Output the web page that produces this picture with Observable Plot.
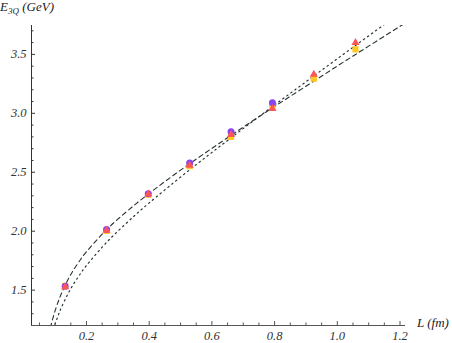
<!DOCTYPE html>
<html><head><meta charset="utf-8">
<script src="https://cdn.jsdelivr.net/npm/d3@7"></script>
<script src="https://cdn.jsdelivr.net/npm/@observablehq/plot@0.6"></script>
<style>
body{margin:0;background:#fff}
svg{display:block}
svg text{font-family:"Liberation Serif","Times New Roman",serif !important;font-style:italic}
</style>
</head><body><div id="chart"></div>
<script>
// Axis ranges and ticks
const xDomain = [0.0246, 1.2175];
const yDomain = [1.2, 3.745];
const xMajorTicks = [0.2, 0.4, 0.6, 0.8, 1.0, 1.2];
const xMinorTicks = [0.05, 0.1, 0.15, 0.25, 0.3, 0.35, 0.45, 0.5, 0.55, 0.65, 0.7, 0.75, 0.85, 0.9, 0.95, 1.05, 1.1, 1.15];
const yMajorTicks = [1.5, 2.0, 2.5, 3.0, 3.5];
const yMinorTicks = [1.3, 1.4, 1.6, 1.7, 1.8, 1.9, 2.1, 2.2, 2.3, 2.4, 2.6, 2.7, 2.8, 2.9, 3.1, 3.2, 3.3, 3.4, 3.6, 3.7];

// Lattice data: L (fm) and E_3Q (GeV) for three series
const L = [0.132, 0.264, 0.397, 0.529, 0.661, 0.793, 0.925, 1.058];
const eSquare   = [1.535, 2.003, 2.310, 2.552, 2.800, 3.053, 3.294, 3.543];
const eCircle   = [1.532, 2.015, 2.318, 2.578, 2.844, 3.090];
const eTriangle = [1.528, 2.007, 2.314, 2.557, 2.818, 3.040, 3.331, 3.600];

// Fit curves
const dashedL = [0.085, 0.09, 0.1, 0.11, 0.12, 0.14, 0.16, 0.18, 0.2, 0.25, 0.3, 0.35, 0.4, 0.5, 0.6, 0.7, 0.8, 0.9, 1.0, 1.1, 1.2, 1.22];
const dashedE = [1.183, 1.235, 1.326, 1.404, 1.471, 1.584, 1.677, 1.756, 1.826, 1.975, 2.102, 2.215, 2.321, 2.518, 2.703, 2.883, 3.058, 3.230, 3.401, 3.570, 3.738, 3.772];
const dottedL = [0.095, 0.1, 0.11, 0.12, 0.14, 0.16, 0.18, 0.2, 0.25, 0.3, 0.35, 0.4, 0.5, 0.6, 0.7, 0.8, 0.9, 1.0, 1.1, 1.2];
const dottedE = [1.171, 1.213, 1.288, 1.353, 1.464, 1.557, 1.637, 1.709, 1.865, 2.000, 2.124, 2.240, 2.459, 2.668, 2.871, 3.071, 3.268, 3.463, 3.657, 3.850];

const colSquare = "#ffc820", colCircle = "#8a45f0", colTriangle = "#ff5555";
const lineColor = "#263333";
const font = "Liberation Serif";

const sq = L.map((l, i) => ({L: l, E: eSquare[i]}));
const ci = eCircle.map((e, i) => ({L: L[i], E: e}));
const tr = L.map((l, i) => ({L: l, E: eTriangle[i]}));
const dashed = dashedL.map((l, i) => ({L: l, E: dashedE[i]}));
const dotted = dottedL.map((l, i) => ({L: l, E: dottedE[i]}));

const axisText = {fontFamily: font, fontStyle: "italic", fontSize: 12.5, fill: "#333"};

const plot = Plot.plot({
  width: 452, height: 343,
  marginLeft: 31, marginRight: 47, marginTop: 25, marginBottom: 18,
  x: {domain: xDomain},
  y: {domain: yDomain},
  marks: [
    Plot.line(dashed, {x: "L", y: "E", stroke: lineColor, strokeWidth: 1.1, strokeDasharray: "4.5,3.5", curve: "natural", clip: true}),
    Plot.line(dotted, {x: "L", y: "E", stroke: lineColor, strokeWidth: 1.2, strokeDasharray: "1.4,3.6", curve: "natural", clip: true}),
    Plot.dot(sq, {x: "L", y: "E", symbol: "square", r: 3.5, fill: colSquare}),
    Plot.dot(ci, {x: "L", y: "E", symbol: "circle", r: 3.5, fill: colCircle}),
    Plot.dot(tr, {x: "L", y: "E", symbol: "triangle", r: 3.0, fill: colTriangle}),
    Plot.ruleY([yDomain[0]], {stroke: "#555", strokeWidth: 1}),
    Plot.ruleX([xDomain[0]], {stroke: "#333", strokeWidth: 1}),
    Plot.axisX({ticks: xMinorTicks, tickSize: -2.5, tickFormat: () => "", label: null, stroke: "#555"}),
    Plot.axisX({ticks: xMajorTicks, tickSize: -4, tickPadding: 10, tickFormat: d3.format(".1f"), label: null, stroke: "#555", ...axisText}),
    Plot.axisY({ticks: yMinorTicks, tickSize: -2.5, tickFormat: () => "", label: null, stroke: "#333"}),
    Plot.axisY({ticks: yMajorTicks, tickSize: -4, tickPadding: 9, tickFormat: d3.format(".1f"), label: null, stroke: "#333", ...axisText})
  ]
});

const svg = d3.select(plot);
const yLab = svg.append("text")
  .attr("x", 0).attr("y", 11).attr("text-anchor", "start")
  .attr("font-family", font).attr("font-style", "italic").attr("font-size", 13).attr("fill", "#222");
yLab.append("tspan").text("E");
yLab.append("tspan").attr("dy", 3).attr("font-size", 9).text("3Q");
yLab.append("tspan").attr("dy", -3).text(" (GeV)");
svg.append("text")
  .attr("x", 417).attr("y", 327).attr("text-anchor", "start")
  .attr("font-family", font).attr("font-style", "italic").attr("font-size", 13).attr("fill", "#222")
  .text("L (fm)");

document.getElementById("chart").appendChild(plot);
</script>
</body></html>
